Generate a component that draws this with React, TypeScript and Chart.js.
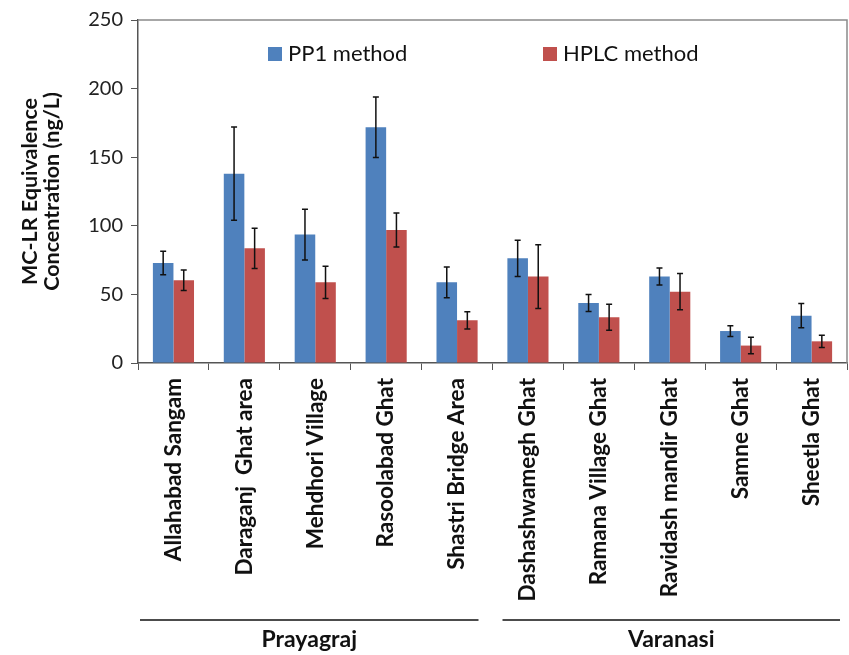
import React, { useEffect, useRef } from 'react';
import { Chart, registerables } from 'chart.js';

Chart.register(...registerables);

const categories = [
  'Allahabad Sangam',
  'Daraganj  Ghat area',
  'Mehdhori Village',
  'Rasoolabad Ghat',
  'Shastri Bridge Area',
  'Dashashwamegh Ghat',
  'Ramana Village Ghat',
  'Ravidash mandir Ghat',
  'Samne Ghat',
  'Sheetla Ghat',
];
const pp1Values = [72.9, 138, 93.6, 171.8, 58.8, 76.3, 43.7, 63, 23.3, 34.5];
const pp1Errors = [8.5, 34, 18.5, 22, 11.2, 13.2, 6.2, 6.2, 3.9, 8.8];
const hplcValues = [60.3, 83.6, 58.8, 96.9, 31.1, 63, 33.3, 52, 12.7, 15.8];
const hplcErrors = [7.5, 14.7, 11.7, 12.4, 6.3, 23.2, 9.5, 13.2, 6, 4.5];
const seriesNames = ['PP1 method', 'HPLC method'];
const seriesColors = ['#4F81BD', '#C0504D'];
const groupLabels = ['Prayagraj', 'Varanasi'];
const groupStarts = [0, 5];
const groupEnds = [4, 9];
const yTicks = [0, 50, 100, 150, 200, 250];

const FONT = 'Lato, "Open Sans", sans-serif';

const errorBarPlugin = {
  id: 'errorBars',
  afterDatasetsDraw(chart: any) {
    const ctx = chart.ctx;
    const y = chart.scales.y;
    const errs = [pp1Errors, hplcErrors];
    const vals = [pp1Values, hplcValues];
    ctx.save();
    ctx.strokeStyle = '#111';
    ctx.lineWidth = 1.5;
    chart.data.datasets.forEach((_: any, di: number) => {
      const meta = chart.getDatasetMeta(di);
      meta.data.forEach((el: any, i: number) => {
        const v = vals[di][i];
        const e = errs[di][i];
        const yt = y.getPixelForValue(v + e);
        const yb = y.getPixelForValue(v - e);
        const x = el.x;
        ctx.beginPath();
        ctx.moveTo(x, yt);
        ctx.lineTo(x, yb);
        ctx.moveTo(x - 3, yt);
        ctx.lineTo(x + 3, yt);
        ctx.moveTo(x - 3, yb);
        ctx.lineTo(x + 3, yb);
        ctx.stroke();
      });
    });
    ctx.restore();
  },
};

const framePlugin = {
  id: 'frame',
  beforeDatasetsDraw(chart: any) {
    const { ctx, chartArea } = chart;
    ctx.save();
    ctx.strokeStyle = '#8a8a8a';
    ctx.lineWidth = 1.5;
    ctx.beginPath();
    ctx.moveTo(chartArea.left, chartArea.top);
    ctx.lineTo(chartArea.right, chartArea.top);
    ctx.lineTo(chartArea.right, chartArea.bottom);
    ctx.stroke();
    ctx.restore();
  },
};

const legendPlugin = {
  id: 'customLegend',
  afterDraw(chart: any) {
    const { ctx, chartArea } = chart;
    ctx.save();
    ctx.font = `22px ${FONT}`;
    ctx.textBaseline = 'middle';
    const box = 14;
    const gapBox = 6;
    const starts = [chartArea.left + 130, chartArea.left + 405];
    const yc = chartArea.top + 34;
    seriesNames.forEach((n, i) => {
      const x = starts[i];
      ctx.fillStyle = seriesColors[i];
      ctx.fillRect(x, yc - box / 2, box, box);
      ctx.fillStyle = '#111';
      ctx.textAlign = 'left';
      ctx.fillText(n, x + box + gapBox, yc);
    });
    ctx.restore();
  },
};

const groupPlugin = {
  id: 'groups',
  afterDraw(chart: any) {
    const { ctx } = chart;
    const xs = chart.scales.x;
    const half = (xs.getPixelForValue(1) - xs.getPixelForValue(0)) / 2;
    ctx.save();
    ctx.strokeStyle = '#111';
    ctx.lineWidth = 1.5;
    ctx.fillStyle = '#111';
    ctx.font = `bold 23px ${FONT}`;
    ctx.textAlign = 'center';
    ctx.textBaseline = 'middle';
    groupLabels.forEach((g, i) => {
      const l = xs.getPixelForValue(groupStarts[i]) - half + (i === 0 ? 2 : 10);
      const r = xs.getPixelForValue(groupEnds[i]) + half - (i === 0 ? 14 : 7);
      ctx.beginPath();
      ctx.moveTo(l, 620);
      ctx.lineTo(r, 620);
      ctx.stroke();
      ctx.fillText(g, (l + r) / 2, 640);
    });
    ctx.restore();
  },
};

export default function App() {
  const ref = useRef<HTMLCanvasElement | null>(null);
  useEffect(() => {
    if (!ref.current) return;
    const chart = new Chart(ref.current, {
      type: 'bar',
      data: {
        labels: categories,
        datasets: [
          { label: seriesNames[0], data: pp1Values, backgroundColor: seriesColors[0] },
          { label: seriesNames[1], data: hplcValues, backgroundColor: seriesColors[1] },
        ],
      },
      options: {
        responsive: false,
        animation: false,
        layout: { padding: { top: 20, right: 2, left: 0, bottom: 0 } },
        datasets: { bar: { categoryPercentage: 0.58, barPercentage: 1 } },
        plugins: { legend: { display: false }, tooltip: { enabled: false } },
        scales: {
          x: {
            grid: { drawOnChartArea: false, tickLength: 7, color: '#555', offset: true },
            border: { color: '#555', width: 1.5 },
            ticks: {
              minRotation: 90,
              maxRotation: 90,
              autoSkip: false,
              padding: 8,
              color: '#111',
              font: { family: FONT, size: 22.5, weight: 'bold' },
            },
            afterFit(scale: any) {
              scale.height = 292;
            },
          },
          y: {
            min: 0,
            max: 250,
            afterBuildTicks(scale: any) {
              scale.ticks = yTicks.map((v) => ({ value: v }));
            },
            grid: { drawOnChartArea: false, tickLength: 7, color: '#555' },
            border: { color: '#555', width: 1.5 },
            ticks: {
              padding: 8,
              color: '#222',
              font: { family: FONT, size: 20 },
            },
            title: {
              display: true,
              text: ['MC-LR Equivalence', 'Concentration (ng/L)'],
              color: '#111',
              padding: { top: 19, bottom: 0 },
              font: { family: FONT, size: 21.5, weight: 'bold', lineHeight: 1.03 },
            },
            afterFit(scale: any) {
              scale.width = 138;
            },
          },
        },
      },
      plugins: [framePlugin, errorBarPlugin, legendPlugin, groupPlugin],
    } as any);
    return () => chart.destroy();
  }, []);
  return (
    <div style={{ position: 'fixed', left: 0, top: 0, width: 849, height: 655, background: '#fff' }}>
      <canvas ref={ref} width={849} height={655} style={{ display: 'block' }} />
    </div>
  );
}
